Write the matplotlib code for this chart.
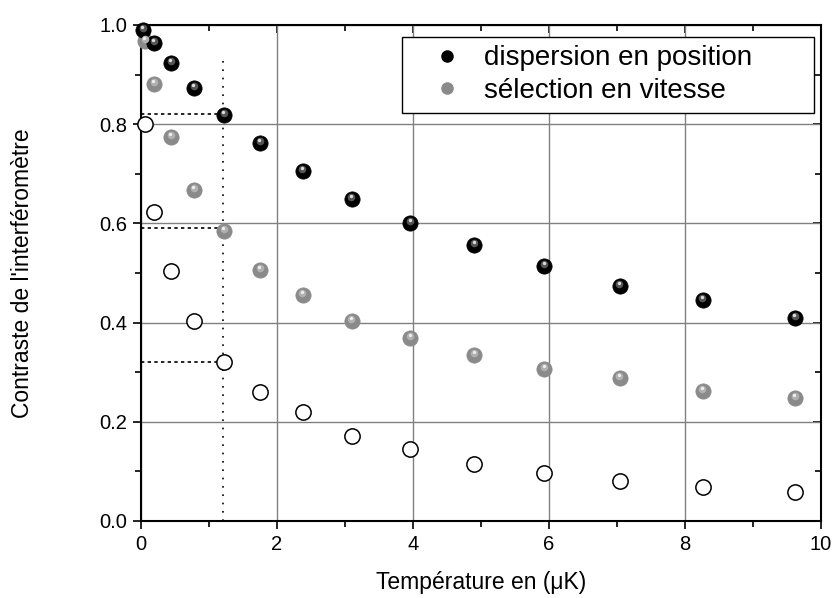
import numpy as np
import matplotlib.pyplot as plt
from matplotlib.lines import Line2D
from matplotlib.transforms import offset_copy
from matplotlib.ticker import MultipleLocator

plt.rcParams['font.family'] = ['Liberation Sans', 'DejaVu Sans']

# data
temp = [0.03, 0.19, 0.44, 0.78, 1.22, 1.75, 2.38, 3.10, 3.96, 4.90, 5.93, 7.04, 8.26, 9.62]
disp_position = [0.99, 0.964, 0.923, 0.873, 0.819, 0.762, 0.706, 0.649, 0.601, 0.556, 0.514, 0.474, 0.446, 0.409]
sel_vitesse = [0.968, 0.881, 0.774, 0.667, 0.585, 0.506, 0.456, 0.403, 0.369, 0.335, 0.306, 0.288, 0.262, 0.248]
open_circles = [0.800, 0.623, 0.504, 0.403, 0.321, 0.260, 0.220, 0.171, 0.145, 0.115, 0.097, 0.081, 0.069, 0.058]
temp_open = [0.06] + temp[1:]
temp_gray = [0.06] + temp[1:]

t_ref = 1.2
contrast_ref = [0.82, 0.59, 0.32]

fig = plt.figure(figsize=(8.33, 5.98), dpi=100)
ax = fig.add_axes([0.1693, 0.1288, 0.8163, 0.8294])

ms = 11


def sphere(x, y, base, mid, hl):
    ax.plot(x, y, 'o', ms=ms, mfc=base, mec=base, mew=0.5, zorder=5, clip_on=False)
    tr = offset_copy(ax.transData, fig=fig, x=-0.3, y=1.3, units='points')
    ax.plot(x, y, 'o', ms=ms * 0.5, mfc=mid, mec='none', zorder=6, clip_on=False, transform=tr)
    tr2 = offset_copy(ax.transData, fig=fig, x=-0.5, y=2.2, units='points')
    ax.plot(x, y, 'o', ms=ms * 0.22, mfc=hl, mec='none', zorder=7, clip_on=False, transform=tr2)


# reference lines
ax.plot([t_ref, t_ref], [0, 0.93], color='black', lw=1.2, ls=(0, (1, 4)), zorder=3)
for c in contrast_ref:
    ax.plot([0, t_ref], [c, c], color='black', lw=1.2, ls=(0, (2, 2)), zorder=3)

ax.plot(temp_open, open_circles, 'o', ms=ms, mfc='white', mec='black', mew=1.1, zorder=5, clip_on=False)
sphere(temp_gray, sel_vitesse, '#8a8a8a', '#b0b0b0', '#eeeeee')
sphere(temp, disp_position, '#000000', '#555555', '#dddddd')

ax.set_xlim(0, 10)
ax.set_ylim(0, 1.0)
ax.xaxis.set_major_locator(MultipleLocator(2))
ax.xaxis.set_minor_locator(MultipleLocator(1))
ax.yaxis.set_major_locator(MultipleLocator(0.2))
ax.yaxis.set_minor_locator(MultipleLocator(0.1))
ax.yaxis.set_major_formatter(lambda v, p: f'{v:.1f}')

ax.grid(True, which='major', color='#808080', lw=1.0, zorder=0)
ax.set_axisbelow(True)
for s in ax.spines.values():
    s.set_linewidth(1.5)

ax.tick_params(which='both', direction='out', top=False, right=False, labelsize=14.5, width=1.2)
ax.tick_params(which='major', length=6, pad=4)
ax.tick_params(which='minor', length=4)
sec_x = ax.secondary_xaxis('top')
sec_x.set_xticks(np.arange(0, 11, 2))
sec_x.xaxis.set_minor_locator(MultipleLocator(1))
sec_x.tick_params(which='both', direction='in', labeltop=False, width=1.2)
sec_x.tick_params(which='major', length=6)
sec_x.tick_params(which='minor', length=4)
sec_x.spines['top'].set_visible(False)
sec_y = ax.secondary_yaxis('right')
sec_y.set_yticks(np.arange(0, 1.01, 0.2))
sec_y.yaxis.set_minor_locator(MultipleLocator(0.1))
sec_y.tick_params(which='both', direction='in', labelright=False, width=1.2)
sec_y.tick_params(which='major', length=6)
sec_y.tick_params(which='minor', length=4)
sec_y.spines['right'].set_visible(False)

ax.set_xlabel('Température en (μK)', fontsize=16.5)
ax.set_ylabel("Contraste de l'interféromètre", fontsize=16.5)
ax.xaxis.set_label_coords(0.5, -0.1)
ax.yaxis.set_label_coords(-0.157, 0.5)

handles = [
    Line2D([], [], ls='none', marker='o', ms=8, mfc='black', mec='black'),
    Line2D([], [], ls='none', marker='o', ms=8, mfc='#8a8a8a', mec='#8a8a8a'),
]
leg = ax.legend(handles, ['dispersion en position', 'sélection en vitesse'],
                loc='upper left', bbox_to_anchor=(0.384, 0.827, 0.606, 0.149),
                mode='expand', fontsize=20,
                frameon=True, fancybox=False, edgecolor='black', framealpha=1,
                handletextpad=0.05, borderpad=0.3, borderaxespad=0.0,
                labelspacing=0.25, handlelength=2.6)
leg.get_frame().set_linewidth(1.0)

fig.savefig('out.png', dpi=100)
